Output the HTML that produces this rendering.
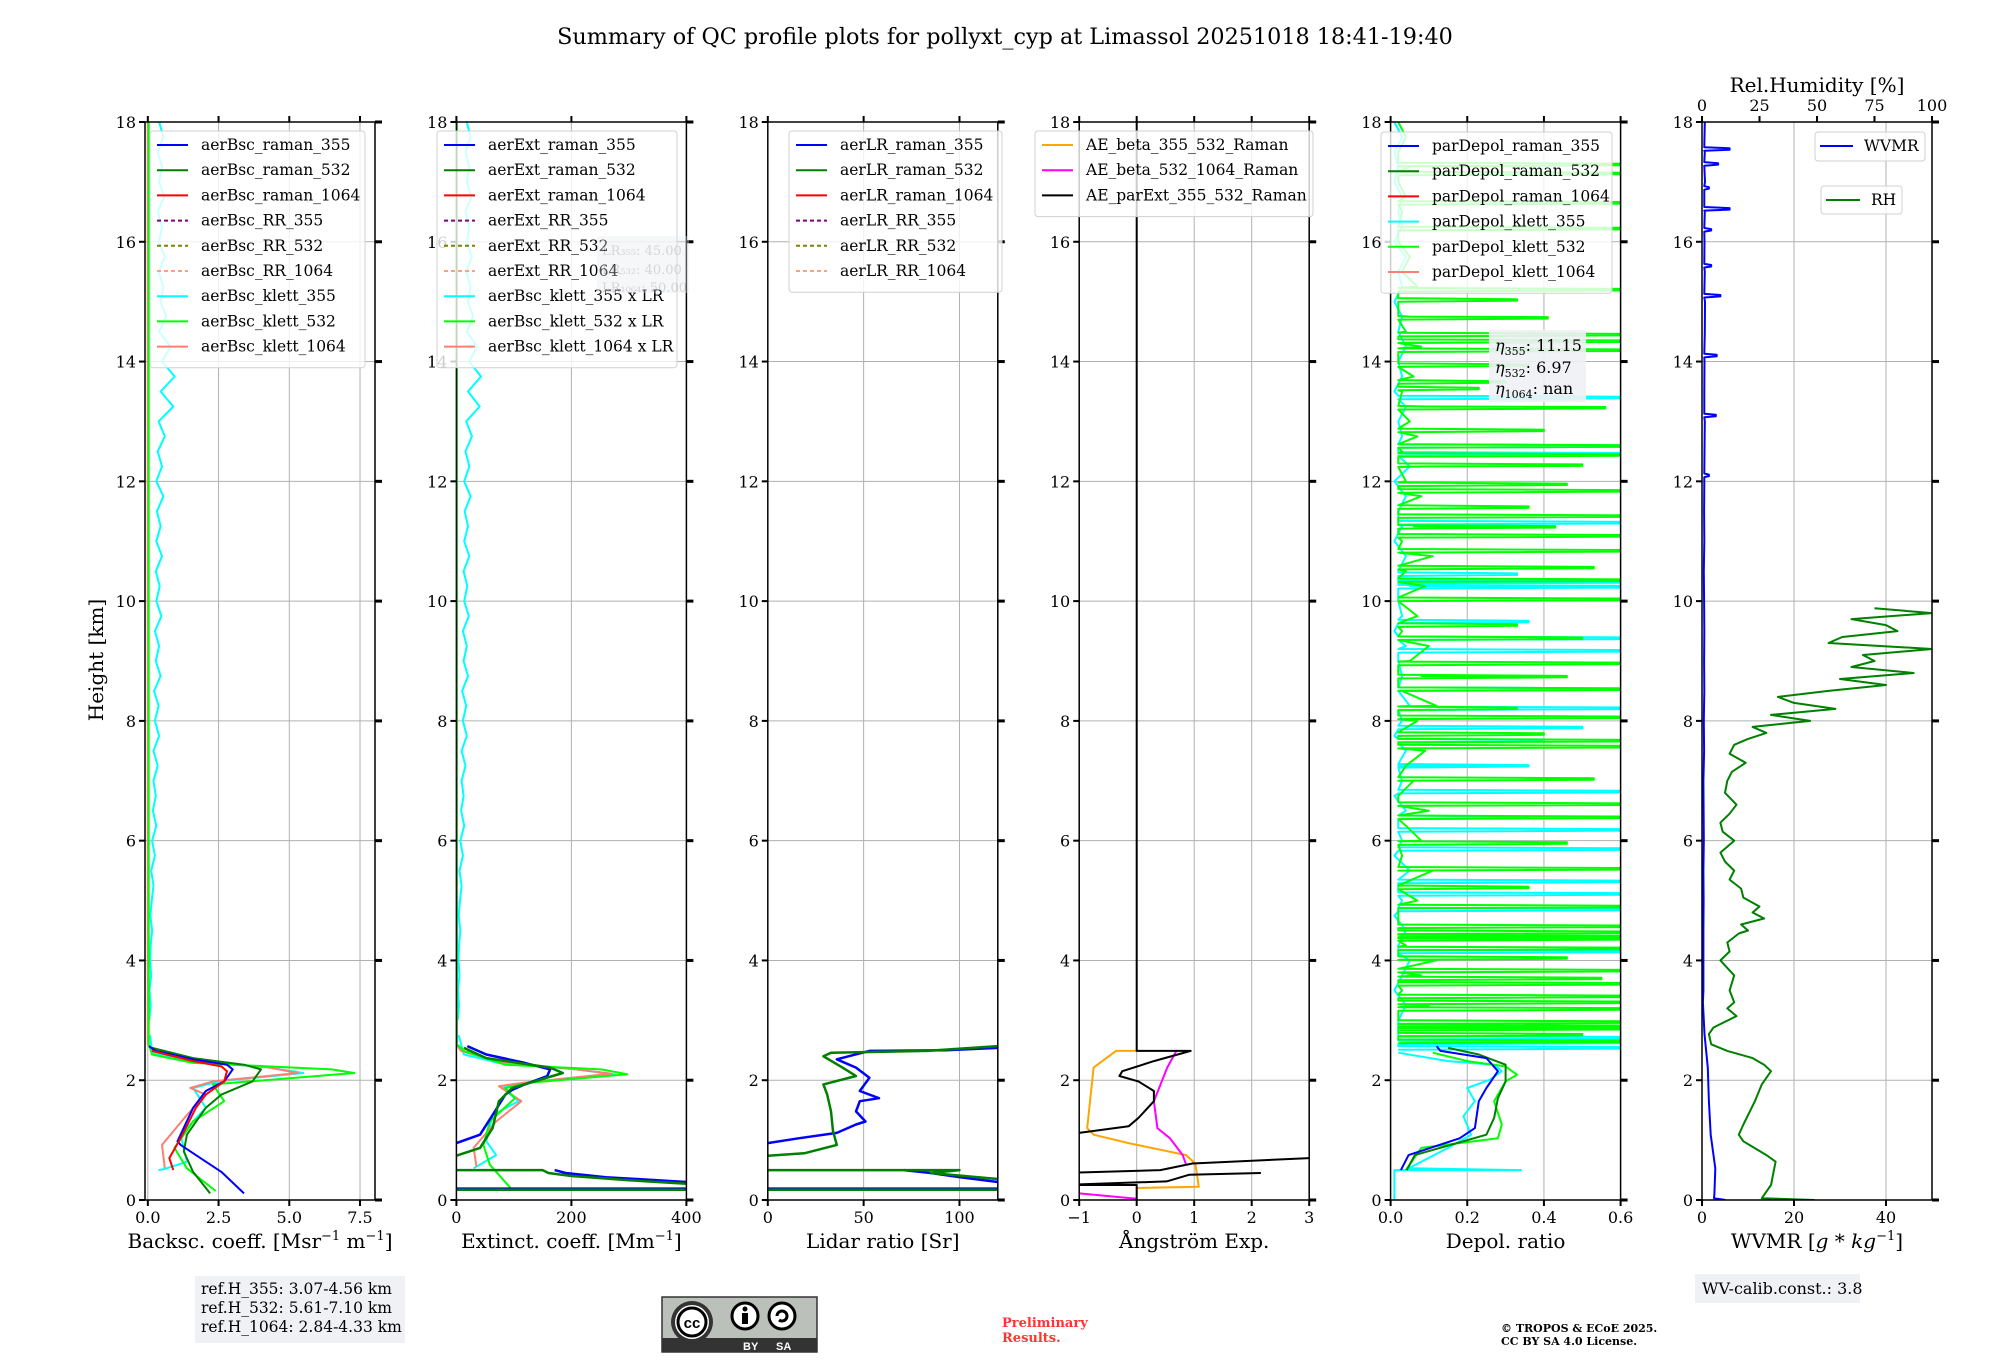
<!DOCTYPE html>
<html><head><meta charset="utf-8">
<style>
html,body{margin:0;padding:0;background:#fff;}
svg{display:block;font-family:"DejaVu Serif","Liberation Serif",serif;}
</style></head>
<body>
<svg id="fig" width="2000" height="1360" viewBox="0 0 2000 1360" xmlns="http://www.w3.org/2000/svg">
<rect x="0" y="0" width="2000" height="1360" fill="#fff"/>
<text x="1005" y="44" font-size="22.3" text-anchor="middle">Summary of QC profile plots for pollyxt_cyp at Limassol 20251018 18:41-19:40</text>
<g id="plots"></g>
<text transform="translate(103,660) rotate(-90)" font-size="20" text-anchor="middle">Height [km]</text>
<g>
<rect x="195" y="1276" width="210" height="67" fill="#f0f1f5"/>
<text x="201" y="1294" font-size="15.5">ref.H_355: 3.07-4.56 km</text>
<text x="201" y="1313" font-size="15.5">ref.H_532: 5.61-7.10 km</text>
<text x="201" y="1332" font-size="15.5">ref.H_1064: 2.84-4.33 km</text>
</g>
<g>
<rect x="662" y="1297" width="155" height="55" fill="#bcc0ba" stroke="#333" stroke-width="1.5"/>
<rect x="662" y="1338" width="155" height="14" fill="#333"/>
<circle cx="692" cy="1322" r="21" fill="#333"/>
<circle cx="692" cy="1322" r="17" fill="#fff"/>
<circle cx="692" cy="1322" r="14" fill="#fff" stroke="#000" stroke-width="3"/>
<text x="692" y="1328" font-size="15" font-weight="bold" text-anchor="middle" font-family="Liberation Sans, sans-serif">cc</text>
<circle cx="745" cy="1316" r="13" fill="#fff" stroke="#000" stroke-width="3"/>
<circle cx="745" cy="1309" r="2.5" fill="#000"/>
<rect x="742" y="1313" width="6" height="11" fill="#000"/>
<circle cx="782" cy="1316" r="13" fill="#fff" stroke="#000" stroke-width="3"/>
<path d="M777 1316 a5 5 0 1 1 2 4" fill="none" stroke="#000" stroke-width="3"/>
<text x="743" y="1350" font-size="11" fill="#fff" font-family="Liberation Sans, sans-serif" font-weight="bold">BY</text>
<text x="776" y="1350" font-size="11" fill="#fff" font-family="Liberation Sans, sans-serif" font-weight="bold">SA</text>
</g>
<text x="1002" y="1327" font-size="13" font-weight="bold" fill="#ff3333">Preliminary</text>
<text x="1002" y="1342" font-size="13" font-weight="bold" fill="#ff3333">Results.</text>
<text x="1501" y="1332" font-size="11" font-weight="bold">© TROPOS &amp; ECoE 2025.</text>
<text x="1501" y="1345" font-size="11" font-weight="bold">CC BY SA 4.0 License.</text>
<g>
<rect x="1695" y="1274" width="165" height="29" fill="#f0f1f5"/>
<text x="1702" y="1294" font-size="16">WV-calib.const.: 3.8</text>
</g>
</svg>
<script>
// ---------- data ----------
const N = NaN;
// Panel 1: backscatter
const bscR355H=[0.11,0.47,0.92,0.98,1.54,1.82,1.98,2.18,2.26,2.35,2.49,2.57];
const bscR355V=[3.4,2.6,1.16,1.05,1.6,2.05,2.7,3.0,2.8,1.6,0.27,0.04];
const bscR532H=[0.11,0.47,0.81,1.09,1.54,1.76,1.98,2.18,2.26,2.37,2.54];
const bscR532V=[2.2,1.6,1.27,1.38,2.05,2.6,3.7,4.0,3.4,1.6,0.15];
const bscR1064H=[0.5,0.7,1.03,1.54,1.76,1.98,2.15,2.23,2.32,2.49];
const bscR1064V=[0.9,0.76,1.16,1.7,2.05,2.7,2.8,2.6,1.6,0.15];
const bscK355H=[0.5,0.52,0.64,1.09,1.54,1.87,1.98,2.12,2.21,2.32,2.46,2.75];
const bscK355V=[0.38,0.6,1.38,1.16,2.05,1.6,2.5,5.5,4.3,1.6,0.15,0.08];
const noiseH=[3,3.25,3.5,3.75,4,4.25,4.5,4.75,5,5.25,5.5,5.75,6,6.25,6.5,6.75,7,7.25,7.5,7.75,8,8.25,8.5,8.75,9,9.25,9.5,9.75,10,10.25,10.5,10.75,11,11.25,11.5,11.75,12,12.25,12.5,12.75,13,13.25,13.5,13.75,14,14.25,14.5,14.75,15,15.25,15.5,15.75,16,16.25,16.5,16.75,17,17.25,17.5,17.75,18];
const bscK355Noise=[0.05,0.1,0.06,0.12,0.08,0.1,0.15,0.09,0.14, 0.2,0.12,0.25,0.15,0.3,0.18,0.28,0.2, 0.35,0.2,0.4,0.25,0.38,0.22,0.45,0.28, 0.4,0.25,0.48,0.3,0.42,0.28,0.5,0.3, 0.45,0.32,0.55,0.3,0.5,0.35,0.6,0.38, 0.9,0.45,0.95,0.5,0.8,0.4,0.65,0.45, 0.55,0.38,0.6,0.4,0.5,0.35,0.58,0.4, 0.5,0.35,0.55,0.4];
const bscK532H=[0.15,0.53,0.87,1.31,1.65,1.93,2.12,2.18,2.29,2.43,2.6,18];
const bscK532V=[2.4,1.38,0.94,1.6,2.7,2.3,7.3,6.5,1.6,0.15,0.03,0.03];
const bscK1064H=[0.53,0.92,1.42,1.76,1.87,1.98,2.12,2.21,2.33,2.49,2.6,18];
const bscK1064V=[0.6,0.5,1.38,2.05,1.5,2.3,5.3,4.3,1.6,0.15,0.0,0.0];
// Panel 2: extinction
const lidarRatio355=45;
const extR355H=[0.19,0.19,N,0.5,0.45,0.38,0.3,N,0.95,1.09,1.42,1.76,1.84,1.93,2.07,2.18,2.29,2.43,2.57];
const extR355V=[0,400,N,171,190,260,400,N,0,41,63,85,97,119,158,163,119,52,19];
const extR532H=[0.17,0.17,N,0.5,0.5,0.45,0.4,0.33,0.27,N,0.74,0.87,1.2,1.65,1.87,2.12,2.21,2.37,2.54];
const extR532V=[0,400,N,0,150,160,200,300,400,N,0,41,63,74,97,185,163,52,13];
const extK355H=[0.53,0.75,0.98,1.42,1.65,1.87,1.96,2.1,2.18,2.29,2.43,2.75];
const extK355V=[30,69,52,63,108,80,119,274,208,74,13,4];
const extK532H=[0.17,0.59,0.92,1.31,1.7,1.87,1.96,2.1,2.18,2.26,2.49,2.6,18];
const extK532V=[97,58,47,58,102,85,130,297,252,85,13,1,1];
const extK1064H=[0.56,0.87,1.31,1.65,1.9,1.96,2.11,2.18,2.31,2.49,2.6,18];
const extK1064V=[35,30,69,113,74,119,269,208,74,8,0,0];
// Panel 3: lidar ratio
const lrR355H=[0.19,0.19,N,0.5,0.45,0.38,0.3,N,0.95,1.03,1.12,1.26,1.31,1.48,1.65,1.7,1.82,2.04,2.21,2.35,2.49,2.5,2.54];
const lrR355V=[0,120,N,71,85,100,120,N,0,16,36,46,51,46,48,58,48,53,46,36,53,93,120];
const lrR532H=[0.17,0.17,N,0.5,0.5,0.45,0.35,N,0.74,0.78,0.92,1.15,1.48,1.76,1.93,2.07,2.21,2.4,2.46,2.49,2.57];
const lrR532V=[0,120,N,0,100,85,120,N,0,19,36,34,33,31,29,46,39,29,33,83,120];
// Panel 4: Angstrom
const aeBetaH=[2.49,2.49,2.21,1.2,1.09,0.95,0.75,0.61,0.22,0.2];
const aeBetaV=[0,-0.36,-0.75,-0.86,-0.75,-0.14,0.86,1.02,1.08,0];
const aeBeta2H=[2.49,2.21,1.65,1.2,1.03,0.75,0.59,N,0.11,0.02];
const aeBeta2V=[0.69,0.53,0.3,0.36,0.58,0.8,0.86,N,-1,0];
const aeExtH=[18,2.49,2.49,2.32,2.15,2.07,1.98,1.82,1.65,1.37,1.23,1.12,N,0.46,0.5,0.61,0.7,N,0.26,0.31,0.42,0.45,N,0.25,0.25,0];
const aeExtV=[0,0,0.94,0.3,-0.25,-0.3,0.03,0.3,0.3,0.03,-0.14,-1,N,-1,0.41,0.97,3,N,-1,0.52,0.91,2.16,N,-1,0,0];
// Panel 5: depol
const depR355H=[0.5,0.75,1.03,1.2,1.65,1.87,2.15,2.37,2.49,2.57];
const depR355V=[0.027,0.047,0.18,0.22,0.23,0.25,0.28,0.25,0.13,0.12];
const depR532H=[0.5,0.75,1.09,1.37,1.7,1.98,2.26,2.43,2.54];
const depR532V=[0.042,0.063,0.25,0.27,0.28,0.3,0.3,0.23,0.15];
const depK355LowH=[0,0.3,0.48,0.5,0.5,0.53,0.87,1.09,1.4,1.65,1.87,2.01,2.15,2.26,2.32,2.46];
const depK355LowV=[0.01,0.01,0.01,0.01,0.34,0.047,0.15,0.21,0.19,0.22,0.2,0.26,0.29,0.27,0.15,0.02];
const depK532LowH=[0.5,0.87,1.03,1.26,1.65,1.98,2.09,2.23,2.32,2.46];
const depK532LowV=[0.04,0.08,0.28,0.29,0.27,0.3,0.33,0.3,0.2,0.11];
const depK532Base=[0.05,0.1,0.03,0.08,0.12,0.04,0.09,0.02,0.07, 0.05,0.11,0.03,0.08,0.04,0.1,0.02,0.06, 0.04,0.09,0.02,0.07,0.12,0.03,0.08,0.05, 0.1,0.03,0.07,0.02,0.09,0.04,0.11,0.03, 0.06,0.02,0.08,0.04,0.1,0.03,0.07,0.05, 0.09,0.03,0.06,0.02,0.08,0.04,0.05,0.02, 0.07,0.03,0.05,0.02,0.06,0.03,0.04,0.02, 0.05,0.02,0.04,0.02];
const depK355Base=[0.02,0.04,0.01,0.03,0.05,0.02,0.04,0.01,0.03, 0.02,0.05,0.01,0.03,0.02,0.04,0.01,0.03, 0.02,0.04,0.01,0.03,0.05,0.02,0.03,0.02, 0.04,0.01,0.03,0.02,0.05,0.02,0.04,0.01, 0.03,0.02,0.04,0.01,0.05,0.02,0.03,0.02, 0.04,0.01,0.03,0.02,0.04,0.02,0.03,0.01, 0.03,0.02,0.04,0.01,0.03,0.02,0.03,0.01, 0.02,0.01,0.03,0.01];
const depK532SpikeH=[17.29,17.14,16.65,16.22,15.2,15.03,14.73,14.45,14.34,14.19,13.94,13.66,13.55,13.23,12.85,12.59,12.44,12.27,11.95,11.84,11.57,11.42,11.24,11.09,10.84,10.56,10.35,10.03,9.6,9.38,8.96,8.74,8.53,8.21,8.06,7.78,7.67,7.57,7.03,6.61,6.39,5.96,5.53,5.22,4.9,4.57,4.47,4.36,4.04,3.83,3.61,3.4,3.19,2.97,2.86,2.76,4.4,4.2,3.7,3.3,2.9,2.65];
const depK532SpikeV=[0.65,0.65,0.65,0.65,0.65,0.33,0.41,0.65,0.65,0.65,0.36,0.30,0.23,0.56,0.4,0.65,0.65,0.5,0.46,0.65,0.36,0.65,0.43,0.65,0.65,0.53,0.65,0.65,0.33,0.5,0.65,0.46,0.65,0.33,0.65,0.4,0.65,0.65,0.53,0.65,0.65,0.46,0.65,0.36,0.65,0.65,0.65,0.65,0.46,0.65,0.65,0.65,0.65,0.65,0.65,0.5,0.65,0.65,0.55,0.65,0.65,0.65];
const depK355SpikeH=[13.4,12.59,12.46,11.31,10.45,10.32,10.24,9.66,9.38,9.17,8.53,8.21,7.89,7.67,7.25,6.82,6.39,6.18,5.86,5.32,5.11,4.85,4.15,2.71,2.63,2.54];
const depK355SpikeV=[0.65,0.65,0.65,0.65,0.33,0.65,0.65,0.36,0.65,0.65,0.65,0.65,0.5,0.4,0.36,0.65,0.36,0.65,0.65,0.65,0.65,0.65,0.65,0.65,0.65,0.65];
// Panel 6: WVMR / RH
const wvmrH=[0,0.03,0.1,0.53,1.09,1.65,2.21,2.77,3.3,3.5,4,4.5,5,5.5,6,6.5,7,7.5,8,8.5,9,9.5,10,10.5,11,11.5,12,12.5,13,13.5,14,14.5,15,15.5,16,16.5,17,17.5,18];
const wvmrV=[5.1,2.6,2.7,2.9,1.9,1.5,1.25,0.55,0.2,0.3,0.3,0.3,0.35,0.3,0.4,0.35,0.3,0.45,0.4,0.5,0.45,0.5,0.45,0.4,0.5,0.45,0.5,0.55,0.6,0.5,0.55,0.6,0.65,0.6,0.55,0.6,0.65,0.6,0.6];
const wvmrSpikeH=[13.1,14.1,15.1,16.2,16.55,17.3,17.55,12.1,15.6,16.9];
const wvmrSpikeV=[3.0,3.2,4.0,2.0,6.0,3.5,6.0,1.5,2.0,1.5];
const rhH=[0,0.03,0.25,0.64,0.75,0.98,1.09,1.26,1.65,1.93,2.15,2.26,2.37,2.49,2.6,2.77,2.88,3.07,3.2,3.3,3.5,3.75,4.0,4.15,4.3,4.45,4.5,4.6,4.7,4.8,4.9,5.05,5.2,5.35,5.5,5.65,5.8,6.0,6.15,6.3,6.45,6.6,6.8,7.0,7.15,7.3,7.45,7.6,7.7,7.8,7.9,8.0,8.1,8.2,8.3,8.4,8.5,8.6,8.7,8.8,8.9,9.0,9.1,9.2,9.3,9.4,9.5,9.6,9.7,9.8,9.88];
const rhV=[49,26,30,32,28,18,16,18,23,26,30,27,22,11,4,3,5,15,11,14,12,14,8,12,11,16,20,17,27,22,25,18,17,12,14,10,8,14,9,8,12,15,10,11,13,19,12,14,20,28,22,47,30,58,40,33,55,80,60,92,65,75,70,100,55,61,85,80,65,100,75];
// tick labels
const yTicks=[0,2,4,6,8,10,12,14,16,18];
const p1Ticks=[0,2.5,5,7.5], p1Labels=["0.0","2.5","5.0","7.5"];
const p2Ticks=[0,200,400];
const p3Ticks=[0,50,100];
const p4Ticks=[-1,0,1,2,3], p4Labels=["\u22121","0","1","2","3"];
const p5Ticks=[0,0.2,0.4,0.6], p5Labels=["0.0","0.2","0.4","0.6"];
const p6Ticks=[0,20,40];
const rhTicks=[0,25,50,75,100];

// ---------- drawing ----------
const NS="http://www.w3.org/2000/svg";
const root=document.getElementById('plots');
const Y0=1200, Y18=122;
function yS(h){return Y0-(h/18)*(Y0-Y18);}
const PW=230;
const panels=[];
function mk(tag,attrs,parent){const e=document.createElementNS(NS,tag);for(const k in attrs)e.setAttribute(k,attrs[k]);(parent||root).appendChild(e);return e;}
function addPanel(i,xmin,xmax){const L=145+311.4*i;const p={L:L,R:L+PW,xmin:xmin,xmax:xmax,x:function(v){return L+(v-xmin)/(xmax-xmin)*PW;}};
  const g=mk('g',{});
  
  
  p.g=g;
  const cp=mk('clipPath',{id:'clip'+i},g);mk('rect',{x:L,y:Y18,width:PW,height:Y0-Y18},cp);
  p.grid=mk('g',{},g);p.data=mk('g',{'clip-path':'url(#clip'+i+')'},g);p.axes=mk('g',{},g);
  panels.push(p);return p;}
function series(p,H,V,color,name,opts){opts=opts||{};let d='',pen=false;
  for(let k=0;k<H.length;k++){if(isNaN(H[k])||isNaN(V[k])){pen=false;continue;}
    d+=(pen?'L':'M')+p.x(V[k]).toFixed(1)+' '+yS(H[k]).toFixed(1);pen=true;}
  const e=mk('path',{d:d,fill:'none',stroke:color,'stroke-width':opts.w||2,'stroke-linejoin':'round',opacity:opts.op||1},p.data);
  
  
  return e;}
function axes(p,ticks,labels,top){
  for(const t of ticks){const X=p.x(t);
    if(X>p.L+1&&X<p.R-1){const gl=mk('line',{x1:X,x2:X,y1:Y18,y2:Y0,stroke:'#b0b0b0','stroke-width':1},p.grid);}
    mk('line',{x1:X,x2:X,y1:Y0,y2:Y0+6,stroke:'#000','stroke-width':2},p.axes);
    if(top)mk('line',{x1:X,x2:X,y1:Y18,y2:Y18-6,stroke:'#000','stroke-width':2},p.axes);
  }
  ticks.forEach((t,k)=>{const tl=mk('text',{x:p.x(t),y:Y0+23,'font-size':16,'text-anchor':'middle'},p.axes);tl.textContent=labels?labels[k]:String(t);});
  for(const h of yTicks){const Y=yS(h);
    if(h>0&&h<18){const gl=mk('line',{x1:p.L,x2:p.R,y1:Y,y2:Y,stroke:'#b0b0b0','stroke-width':1},p.grid);}
    mk('line',{x1:p.L-6,x2:p.L,y1:Y,y2:Y,stroke:'#000','stroke-width':2},p.axes);
    mk('line',{x1:p.R,x2:p.R+7,y1:Y,y2:Y,stroke:'#000','stroke-width':3},p.axes);
    const tl=mk('text',{x:p.L-9,y:Y+6,'font-size':16,'text-anchor':'end'},p.axes);tl.textContent=String(h);
    
    }
  const fr=mk('rect',{x:p.L,y:Y18,width:PW,height:Y0-Y18,fill:'none',stroke:'#000','stroke-width':1.5},p.axes);
  
}
function xlabel(p,html){const t=mk('text',{x:(p.L+p.R)/2,y:1248,'font-size':20,'text-anchor':'middle'},p.axes);t.innerHTML=html;
  }
function legend(x,y,w,entries,name){const g=mk('g',{});
  
  
  mk('rect',{x:x,y:y,width:w,height:entries.length*25.2+10,rx:3,fill:'#fff','fill-opacity':0.8,stroke:'#d0d0d0'},g);
  entries.forEach((e,k)=>{const cy=y+14+k*25.2;
    const it=mk('g',{},g);
    
    
    mk('line',{x1:x+7,x2:x+38,y1:cy,y2:cy,stroke:e[1],'stroke-width':2,'stroke-dasharray':e[2]?'4 3':'none'},it);
    const t=mk('text',{x:x+51,y:cy+5,'font-size':15.5},it);t.textContent=e[0];});}
function spikeProfile(baseH,baseV,spH,spV,floor){const pts=[];const f=floor||0.02;
  baseH.forEach((h,k)=>pts.push([h,baseV[k]]));
  spH.forEach((h,k)=>{pts.push([h-0.03,f]);pts.push([h-0.012,spV[k]]);pts.push([h+0.012,spV[k]]);pts.push([h+0.03,f]);});
  pts.sort((a,b)=>a[0]-b[0]);return [pts.map(p=>p[0]),pts.map(p=>p[1])];}

// Panel 1
let p=addPanel(0,-0.1,8.03);
axes(p,p1Ticks,p1Labels,true);
series(p,noiseH,bscK355Noise,'#00ffff','bsc-klett-355-upper');
series(p,bscK355H,bscK355V,'#00ffff','bsc-klett-355');
series(p,bscK1064H,bscK1064V,'#fa8072','bsc-klett-1064');
series(p,bscK532H,bscK532V,'#00ff00','bsc-klett-532');
series(p,bscR532H,bscR532V,'#008000','bsc-raman-532');
series(p,bscR355H,bscR355V,'#0000ff','bsc-raman-355');
series(p,bscR1064H,bscR1064V,'#ff0000','bsc-raman-1064');
xlabel(p,'Backsc. coeff. [Msr<tspan font-size="13" dy="-8">−1</tspan><tspan dy="8"> m</tspan><tspan font-size="13" dy="-8">−1</tspan><tspan dy="8">]</tspan>');
legend(150,131,215,[['aerBsc_raman_355','#0000ff'],['aerBsc_raman_532','#008000'],['aerBsc_raman_1064','#ff0000'],['aerBsc_RR_355','#800080',1],['aerBsc_RR_532','#808000',1],['aerBsc_RR_1064','#ffa07a',1],['aerBsc_klett_355','#00ffff'],['aerBsc_klett_532','#00ff00'],['aerBsc_klett_1064','#fa8072']],'legend-backscatter');

// Panel 2
p=addPanel(1,0,400);
axes(p,p2Ticks,null,true);
series(p,noiseH,bscK355Noise.map(v=>v*lidarRatio355),'#00ffff','ext-klett-355-upper');
series(p,extK355H,extK355V,'#00ffff','ext-klett-355');
series(p,extK1064H,extK1064V,'#fa8072','ext-klett-1064');
series(p,extK532H,extK532V,'#00ff00','ext-klett-532');
series(p,extR355H,extR355V,'#0000ff','ext-raman-355',{w:2.5});
series(p,extR532H,extR532V,'#008000','ext-raman-532',{w:2.5});
xlabel(p,'Extinct. coeff. [Mm<tspan font-size="13" dy="-8">−1</tspan><tspan dy="8">]</tspan>');
legend(437,131,240,[['aerExt_raman_355','#0000ff'],['aerExt_raman_532','#008000'],['aerExt_raman_1064','#ff0000'],['aerExt_RR_355','#800080',1],['aerExt_RR_532','#808000',1],['aerExt_RR_1064','#ffa07a',1],['aerBsc_klett_355 x LR','#00ffff'],['aerBsc_klett_532 x LR','#00ff00'],['aerBsc_klett_1064 x LR','#fa8072']],'legend-extinction');
(function(){const g=mk('g',{opacity:0.35});
 mk('rect',{x:597,y:236,width:92,height:57,fill:'#e8eaf0'},g);
 [['LR₃₅₅: 45.00',255],['LR₅₃₂: 40.00',274],['LR₁₀₆₄: 50.00',292]].forEach(a=>{const t=mk('text',{x:602,y:a[1],'font-size':13,fill:'#888'},g);t.textContent=a[0];});})();

// Panel 3
p=addPanel(2,0,120);
axes(p,p3Ticks,null,true);
series(p,lrR355H,lrR355V,'#0000ff','lr-raman-355',{w:2.5});
series(p,lrR532H,lrR532V,'#008000','lr-raman-532',{w:2.5});
xlabel(p,'Lidar ratio [Sr]');
legend(789,131,213,[['aerLR_raman_355','#0000ff'],['aerLR_raman_532','#008000'],['aerLR_raman_1064','#ff0000'],['aerLR_RR_355','#800080',1],['aerLR_RR_532','#808000',1],['aerLR_RR_1064','#ffa07a',1]],'legend-lidar-ratio');

// Panel 4
p=addPanel(3,-1,3);
axes(p,p4Ticks,p4Labels,true);
series(p,aeBetaH,aeBetaV,'#ffa500','ae-beta-355-532');
series(p,aeBeta2H,aeBeta2V,'#ff00ff','ae-beta-532-1064');
series(p,aeExtH,aeExtV,'#000000','ae-parext-355-532');
xlabel(p,'Ångström Exp.');
legend(1035,131,278,[['AE_beta_355_532_Raman','#ffa500'],['AE_beta_532_1064_Raman','#ff00ff'],['AE_parExt_355_532_Raman','#000000']],'legend-angstrom');

// Panel 5
p=addPanel(4,0,0.6);
axes(p,p5Ticks,p5Labels,true);
let s=spikeProfile(noiseH,depK355Base,depK355SpikeH,depK355SpikeV);
series(p,s[0],s[1],'#00ffff','depol-klett-355-upper');
s=spikeProfile(noiseH,depK532Base,depK532SpikeH,depK532SpikeV);
series(p,s[0],s[1],'#00ff00','depol-klett-532-upper');
series(p,depK355LowH,depK355LowV,'#00ffff','depol-klett-355');
series(p,depK532LowH,depK532LowV,'#00ff00','depol-klett-532');
series(p,depR532H,depR532V,'#008000','depol-raman-532');
series(p,depR355H,depR355V,'#0000ff','depol-raman-355');
xlabel(p,'Depol. ratio');
legend(1381,132,231,[['parDepol_raman_355','#0000ff'],['parDepol_raman_532','#008000'],['parDepol_raman_1064','#ff0000'],['parDepol_klett_355','#00ffff'],['parDepol_klett_532','#00ff00'],['parDepol_klett_1064','#fa8072']],'legend-depol');
(function(){const g=mk('g',{});
 mk('rect',{x:1489,y:330,width:97,height:72,fill:'#f0f1f5','fill-opacity':0.9},g);
 [['355','11.15',351],['532','6.97',373],['1064','nan',394]].forEach(a=>{const t=mk('text',{x:1495,y:a[2],'font-size':16},g);
  t.innerHTML='<tspan font-style="italic">η</tspan><tspan font-size="11" dy="4">'+a[0]+'</tspan><tspan dy="-4">: '+a[1]+'</tspan>';});})();

// Panel 6
p=addPanel(5,0,50);
axes(p,p6Ticks,null,false);
const pRH={x:function(v){return p.L+v/100*PW;}};
series({x:pRH.x,data:p.data},rhH,rhV,'#008000','rh-profile');
s=spikeProfile(wvmrH,wvmrV,wvmrSpikeH,wvmrSpikeV,0.5);
series(p,s[0],s[1],'#0000ff','wvmr-profile');
for(const t of rhTicks){const X=pRH.x(t);mk('line',{x1:X,x2:X,y1:Y18,y2:Y18-6,stroke:'#000','stroke-width':2},p.axes);
 const tl=mk('text',{x:X,y:111,'font-size':16,'text-anchor':'middle'},p.axes);tl.textContent=String(t);
 }
(function(){const t=mk('text',{x:1817,y:92,'font-size':20,'text-anchor':'middle'},p.axes);t.textContent='Rel.Humidity [%]';})();
xlabel(p,'WVMR [<tspan font-style="italic">g</tspan> * <tspan font-style="italic">kg</tspan><tspan font-size="13" dy="-8">−1</tspan><tspan dy="8">]</tspan>');
(function(){let g=mk('g',{});
 mk('rect',{x:1815,y:132,width:110,height:29,rx:3,fill:'#fff','fill-opacity':0.8,stroke:'#d0d0d0'},g);
 mk('line',{x1:1820,x2:1853,y1:146,y2:146,stroke:'#0000ff','stroke-width':2},g);
 let t=mk('text',{x:1864,y:151,'font-size':15.5},g);t.textContent='WVMR';
 g=mk('g',{});
 mk('rect',{x:1821,y:186,width:81,height:28,rx:3,fill:'#fff','fill-opacity':0.8,stroke:'#d0d0d0'},g);
 mk('line',{x1:1826,x2:1860,y1:200,y2:200,stroke:'#008000','stroke-width':2},g);
 t=mk('text',{x:1871,y:205,'font-size':15.5},g);t.textContent='RH';})();
</script>
</body></html>
